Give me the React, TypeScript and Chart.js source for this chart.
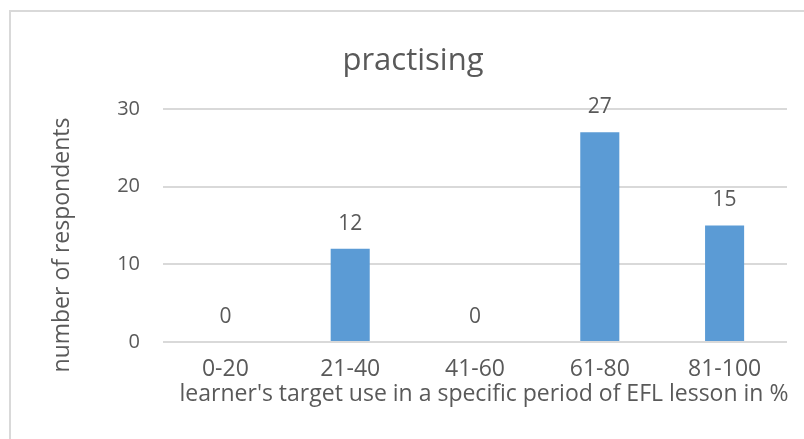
import React, { useEffect, useRef } from "react";
import { Chart, registerables } from "chart.js";

Chart.register(...registerables);

const categories = ["0-20", "21-40", "41-60", "61-80", "81-100"];
const respondents = [0, 12, 0, 27, 15];
const yTicks = [0, 10, 20, 30];
const chartTitle = "practising";
const xTitle = "learner's target use in a specific period of EFL lesson in %";
const yTitle = "number of respondents";

const TEXT = "#595959";
const BAR = "#5B9BD5";
const GRID = "#D9D9D9";
const FONT = "'Open Sans', 'Noto Sans', sans-serif";

const decorPlugin = {
  id: "decor",
  beforeDraw(chart: any) {
    const ctx = chart.ctx;
    ctx.save();
    ctx.strokeStyle = GRID;
    ctx.lineWidth = 2;
    ctx.beginPath();
    ctx.moveTo(10, 460);
    ctx.lineTo(10, 11);
    ctx.lineTo(820, 11);
    ctx.stroke();
    ctx.restore();
  },
  afterDraw(chart: any) {
    const ctx = chart.ctx;
    ctx.save();
    ctx.fillStyle = TEXT;
    ctx.font = `31px ${FONT}`;
    ctx.textAlign = "center";
    ctx.textBaseline = "alphabetic";
    ctx.fillText(chartTitle, 413, 70);
    ctx.font = `23px ${FONT}`;
    ctx.fillText(xTitle, 484, 400.5);
    ctx.translate(68.5, 245);
    ctx.rotate(-Math.PI / 2);
    ctx.fillText(yTitle, 0, 0);
    ctx.restore();
  },
  afterDatasetsDraw(chart: any) {
    const ctx = chart.ctx;
    const meta = chart.getDatasetMeta(0);
    const data = chart.data.datasets[0].data;
    ctx.save();
    ctx.fillStyle = TEXT;
    ctx.font = `21px ${FONT}`;
    ctx.textAlign = "center";
    ctx.textBaseline = "middle";
    meta.data.forEach((bar: any, i: number) => {
      ctx.fillText(String(data[i]), bar.x, bar.y - 25);
    });
    ctx.restore();
  },
};

export default function App() {
  const ref = useRef<HTMLCanvasElement>(null);
  useEffect(() => {
    if (!ref.current) return;
    Chart.defaults.font.family = FONT;
    const chart = new Chart(ref.current, {
      type: "bar",
      data: {
        labels: categories,
        datasets: [
          {
            data: respondents,
            backgroundColor: BAR,
            barPercentage: 0.313,
            categoryPercentage: 1,
          },
        ],
      },
      options: {
        animation: false,
        responsive: false,
        devicePixelRatio: 1,
        layout: { padding: { top: 109, left: 0, right: 17, bottom: 0 } },
        plugins: {
          legend: { display: false },
          title: { display: false },
          tooltip: { enabled: false },
        },
        scales: {
          x: {
            grid: { display: false },
            border: { display: false },
            ticks: {
              color: TEXT,
              font: { size: 23, family: FONT },
              padding: 6,
              maxRotation: 0,
              autoSkip: false,
            },
            afterFit: (s: any) => {
              s.height = 97;
            },
          },
          y: {
            min: 0,
            max: 30,
            afterBuildTicks: (s: any) => {
              s.ticks = yTicks.map((v) => ({ value: v }));
            },
            grid: { color: GRID, lineWidth: 2, drawTicks: false },
            border: { display: false },
            ticks: {
              color: TEXT,
              font: { size: 20, family: FONT },
              padding: 23,
            },
            afterFit: (s: any) => {
              s.width = 163;
            },
          },
        },
      },
      plugins: [decorPlugin],
    });
    if ((document as any).fonts && (document as any).fonts.ready) {
      (document as any).fonts.ready.then(() => chart.update());
    }
    return () => chart.destroy();
  }, []);
  return (
    <div style={{ position: "fixed", left: 0, top: 0, width: 804, height: 439, background: "#fff" }}>
      <canvas ref={ref} width={804} height={439} style={{ width: 804, height: 439, display: "block" }} />
    </div>
  );
}
